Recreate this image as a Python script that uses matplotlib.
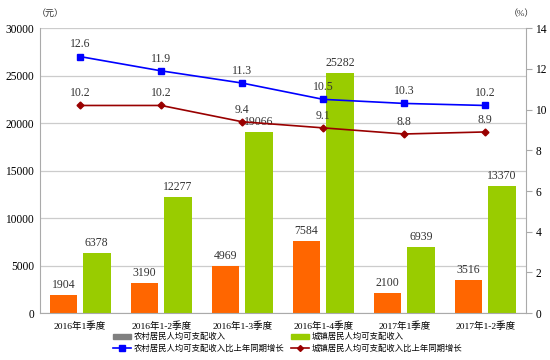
import numpy as np
from matplotlib import pyplot as plt
from matplotlib.patches import Patch
from matplotlib.lines import Line2D

plt.rcParams['font.family'] = ['Liberation Serif', 'Noto Sans CJK SC', 'DejaVu Sans']

categories = ['2016年1季度', '2016年1-2季度', '2016年1-3季度',
              '2016年1-4季度', '2017年1季度', '2017年1-2季度']
rural_income = [1904, 3190, 4969, 7584, 2100, 3516]
urban_income = [6378, 12277, 19066, 25282, 6939, 13370]
rural_growth = [12.6, 11.9, 11.3, 10.5, 10.3, 10.2]
urban_growth = [10.2, 10.2, 9.4, 9.1, 8.8, 8.9]

ORANGE = '#FF6600'
GREEN = '#99CC00'
BLUE = '#0000FF'
DARKRED = '#990000'

fig = plt.figure(figsize=(5.5, 3.6), dpi=100)
ax = fig.add_axes([0.072, 0.13, 0.884, 0.792])
ax2 = ax.twinx()

x = np.arange(len(categories))
w = 0.34
ax.bar(x - 0.205, rural_income, w, color=ORANGE, zorder=2)
ax.bar(x + 0.205, urban_income, w, color=GREEN, zorder=2)

for xi, v in zip(x, rural_income):
    ax.text(xi - 0.205, v + 400, str(v), ha='center', va='bottom', fontsize=8.5, color='#333333')
for xi, v in zip(x, urban_income):
    ax.text(xi + 0.205, v + 400, str(v), ha='center', va='bottom', fontsize=8.5, color='#333333')

ax.set_ylim(0, 30000)
ax.set_yticks(np.arange(0, 30001, 5000))
ax.set_xlim(-0.5, len(categories) - 0.5)
ax.set_xticks(x)
ax.set_xticklabels(categories, fontsize=6.8)
ax.tick_params(axis='x', length=0, pad=6)
ax.tick_params(axis='y', length=0, labelsize=8.3, pad=4)
ax.yaxis.grid(True, color='#CCCCCC', linewidth=0.9, zorder=0)
ax.set_axisbelow(True)
for s in ['top', 'right']:
    ax.spines[s].set_visible(False)
for s in ['left', 'bottom']:
    ax.spines[s].set_color('#AAAAAA')

ax2.plot(x, rural_growth, color=BLUE, marker='s', markersize=5, linewidth=1.2, zorder=3)
ax2.plot(x, urban_growth, color=DARKRED, marker='D', markersize=3.5, linewidth=1.2, zorder=3)
for xi, v in zip(x, rural_growth):
    ax2.text(xi, v + 0.3, f'{v:.1f}', ha='center', va='bottom', fontsize=8.5, color='#333333')
for xi, v in zip(x, urban_growth):
    ax2.text(xi, v + 0.3, f'{v:.1f}', ha='center', va='bottom', fontsize=8.5, color='#333333')
ax2.set_ylim(0, 14)
ax2.set_yticks(np.arange(0, 15, 2))
ax2.tick_params(axis='y', length=4, color='#AAAAAA', labelsize=8.3, pad=3)
for s in ['top', 'left', 'bottom']:
    ax2.spines[s].set_visible(False)
ax2.spines['right'].set_color('#AAAAAA')

fig.text(0.066, 0.962, '（元）', fontsize=6.5, ha='left', va='center', color='#333333')
fig.text(0.925, 0.962, '（%）', fontsize=6.5, ha='left', va='center', color='#333333')

handles = [
    Patch(color='#808080'),
    Line2D([], [], color=BLUE, marker='s', markersize=4, linewidth=1.2),
    Patch(color=GREEN),
    Line2D([], [], color=DARKRED, marker='D', markersize=3, linewidth=1.2),
]
labels = ['农村居民人均可支配收入', '农村居民人均可支配收入比上年同期增长',
          '城镇居民人均可支配收入', '城镇居民人均可支配收入比上年同期增长']
fig.legend(handles, labels, ncol=2, loc='lower center', bbox_to_anchor=(0.523, 0.0),
           frameon=False, fontsize=6, handlelength=2.2, handleheight=0.5,
           columnspacing=0.8, labelspacing=0.35, handletextpad=0.3)

fig.savefig('out.png', dpi=100)
